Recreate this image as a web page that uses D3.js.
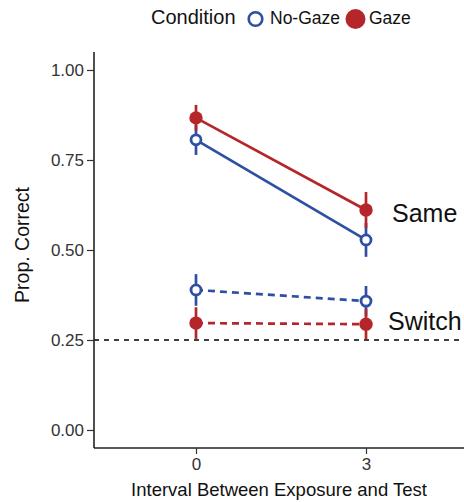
<!DOCTYPE html>
<html><head><meta charset="utf-8">
<script src="https://cdn.jsdelivr.net/npm/d3@7"></script>
<style>body{margin:0;background:#fff;} text{font-family:"Liberation Sans",Arial,sans-serif;}</style>
</head><body>
<svg id="c" width="464" height="502"></svg>
<script>
const intervals = ["0", "3"];
const conditions = ["No-Gaze", "Gaze"];
const trialTypes = ["Same", "Switch"];
const noGazeSame = [0.806, 0.528];
const noGazeSameErr = [0.042, 0.047];
const gazeSame = [0.867, 0.611];
const gazeSameErr = [0.036, 0.05];
const noGazeSwitch = [0.389, 0.358];
const noGazeSwitchErr = [0.044, 0.042];
const gazeSwitch = [0.297, 0.294];
const gazeSwitchErr = [0.044, 0.042];
const yTicks = [0, 0.25, 0.5, 0.75, 1.0];
const chance = 0.25;

(function () {
const colors = {"No-Gaze": "#2E4FA3", "Gaze": "#B5262A"};
const series = [
  {cond:"No-Gaze", type:"Same", v:noGazeSame, e:noGazeSameErr},
  {cond:"Gaze", type:"Same", v:gazeSame, e:gazeSameErr},
  {cond:"No-Gaze", type:"Switch", v:noGazeSwitch, e:noGazeSwitchErr},
  {cond:"Gaze", type:"Switch", v:gazeSwitch, e:gazeSwitchErr}
];

const svg = d3.select("#c");
const pL = 94, pR = 468, pT = 52, pB = 448;
const x = d3.scalePoint().domain(intervals).range([pL, pR]).padding(0.6);
const y = d3.scaleLinear().domain([-0.05, 1.05]).range([pB, pT]);

// chance line
svg.append("line").attr("x1", pL).attr("x2", pR)
  .attr("y1", y(chance)).attr("y2", y(chance))
  .attr("stroke", "#000").attr("stroke-width", 1.3).attr("stroke-dasharray", "5,5");

// axes
const yAxis = svg.append("g").attr("transform", `translate(${pL},0)`)
  .call(d3.axisLeft(y).tickValues(yTicks).tickFormat(d3.format(".2f")).tickSizeOuter(0).tickSize(7).tickPadding(3));
const xAxis = svg.append("g").attr("transform", `translate(0,${pB})`)
  .call(d3.axisBottom(x).tickSizeOuter(0).tickSize(6).tickPadding(4));
[yAxis, xAxis].forEach(a => {
  a.select(".domain").attr("stroke", "#222").attr("stroke-width", 1.6);
  a.selectAll(".tick line").attr("stroke", "#333").attr("stroke-width", 1.2);
  a.selectAll(".tick text").attr("fill", "#333").style("font-size", "17px").style("font-family", "Liberation Sans, Arial, sans-serif");
});
yAxis.select(".domain").attr("d", `M0,${pT}V${pB}`);
xAxis.select(".domain").attr("d", `M${pL},0H${pR}`);

// lines
const line = d3.line().x((d, i) => x(intervals[i])).y(d => y(d));
series.forEach(s => {
  svg.append("path").datum(s.v).attr("d", line).attr("fill", "none")
    .attr("stroke", colors[s.cond]).attr("stroke-width", 2.7)
    .attr("stroke-dasharray", s.type === "Switch" ? "7,5" : null);
});
// error bars + points
series.forEach(s => {
  s.v.forEach((v, i) => {
    svg.append("line").attr("x1", x(intervals[i])).attr("x2", x(intervals[i]))
      .attr("y1", y(v - s.e[i])).attr("y2", y(v + s.e[i]))
      .attr("stroke", colors[s.cond]).attr("stroke-width", 2.7);
  });
});
series.forEach(s => {
  s.v.forEach((v, i) => {
    const c = svg.append("circle").attr("cx", x(intervals[i])).attr("cy", y(v));
    if (s.cond === "Gaze") c.attr("r", 6.7).attr("fill", colors[s.cond]);
    else c.attr("r", 5).attr("fill", "#fff").attr("stroke", colors[s.cond]).attr("stroke-width", 2.8);
  });
});

// trial type labels
svg.append("text").attr("x", 392).attr("y", 222).text(trialTypes[0]).style("font-size", "25px").attr("fill", "#111");
svg.append("text").attr("x", 388).attr("y", 330).text(trialTypes[1]).style("font-size", "25px").attr("fill", "#111");

// axis titles
svg.append("text").attr("transform", `translate(29,245) rotate(-90)`)
  .attr("text-anchor", "middle").text("Prop. Correct").style("font-size", "19.5px").attr("fill", "#111");
svg.append("text").attr("x", 279).attr("y", 496).attr("text-anchor", "middle")
  .text("Interval Between Exposure and Test").style("font-size", "18.5px").attr("fill", "#111");

// legend
const lg = svg.append("g");
lg.append("text").attr("x", 151).attr("y", 24).text("Condition").style("font-size", "20px").attr("fill", "#111");
lg.append("circle").attr("cx", 255.5).attr("cy", 19).attr("r", 6.8).attr("fill", "#fff")
  .attr("stroke", colors["No-Gaze"]).attr("stroke-width", 2.6);
lg.append("text").attr("x", 270).attr("y", 24).text(conditions[0]).style("font-size", "17.5px").attr("fill", "#111");
lg.append("circle").attr("cx", 355.5).attr("cy", 19).attr("r", 10).attr("fill", colors["Gaze"]);
lg.append("text").attr("x", 369).attr("y", 24).text(conditions[1]).style("font-size", "17.5px").attr("fill", "#111");
})();
</script>
</body></html>
